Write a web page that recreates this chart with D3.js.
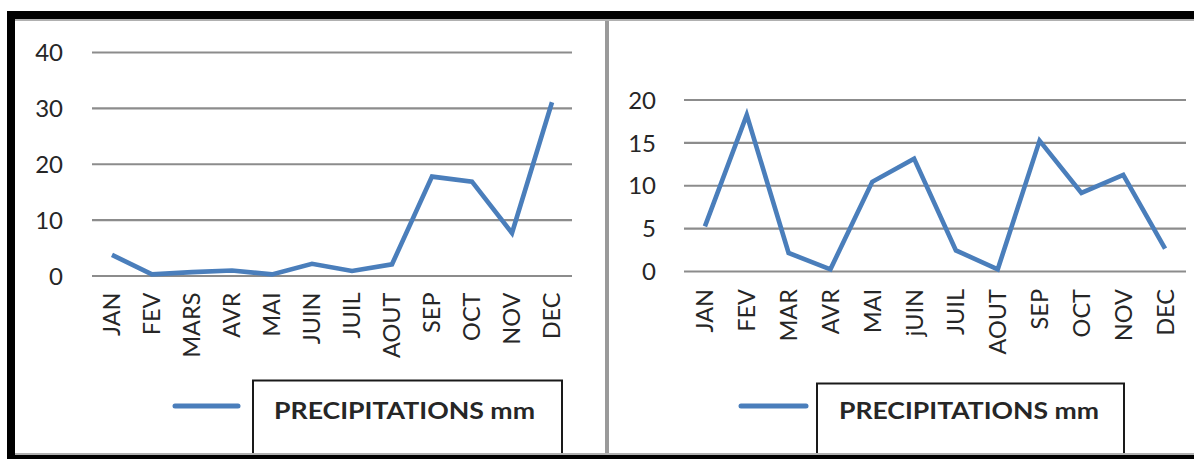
<!DOCTYPE html>
<html><head><meta charset="utf-8">
<script src="https://cdn.jsdelivr.net/npm/d3@7"></script>
<style>
html,body{margin:0;padding:0;background:#fff;}
svg{display:block;}
</style></head>
<body>
<svg id="chart" width="1194" height="459"></svg>
<script>
// ---- data ----
const monthsLeft = ["JAN","FEV","MARS","AVR","MAI","JUIN","JUIL","AOUT","SEP","OCT","NOV","DEC"];
const precipLeft = [3.7, 0.2, 0.6, 0.9, 0.2, 2.1, 0.8, 2.0, 17.7, 16.8, 7.6, 31.0];
const ticksLeft = [0, 10, 20, 30, 40];

const monthsRight = ["JAN","FEV","MAR","AVR","MAI","jUIN","JUIL","AOUT","SEP","OCT","NOV","DEC"];
const precipRight = [5.2, 18.2, 2.1, 0.2, 10.4, 13.1, 2.4, 0.2, 15.2, 9.1, 11.2, 2.6];
const ticksRight = [0, 5, 10, 15, 20];

const legendLabel = "PRECIPITATIONS mm";

// ---- drawing ----
const svg = d3.select("#chart");
const FONT = "Lato, 'Open Sans', sans-serif";
const LINE = "#4a7ebb";
const TXT = "#262626";

svg.append("rect").attr("x",0).attr("y",0).attr("width",1194).attr("height",459).attr("fill","#fff");

function panel(cfg){
  const g = svg.append("g");
  const x = d3.scaleBand().domain(cfg.months).range([cfg.x0, cfg.x1]).padding(0);
  const y = d3.scaleLinear().domain([cfg.ticks[0], cfg.ticks[cfg.ticks.length-1]]).range([cfg.yBottom, cfg.yTop]);

  // y axis with gridlines
  const yAxis = d3.axisLeft(y).tickValues(cfg.ticks).tickSize(-(cfg.x1-cfg.x0)).tickPadding(cfg.yPad).tickFormat(d3.format("d"));
  const ya = g.append("g").attr("transform",`translate(${cfg.x0},0)`).call(yAxis);
  ya.select(".domain").remove();
  ya.selectAll(".tick line").attr("stroke","#8c8c8c").attr("stroke-width",2.2);
  ya.selectAll(".tick text").attr("fill",TXT).style("font-family",FONT).style("font-size","24px").attr("dy","0.36em");

  // x axis labels
  const xAxis = d3.axisBottom(x).tickSize(0).tickPadding(0);
  const xa = g.append("g").attr("transform",`translate(0,${cfg.yBottom})`).call(xAxis);
  xa.select(".domain").remove();
  xa.selectAll(".tick text")
    .attr("transform","rotate(-90)")
    .attr("x",-cfg.xPad).attr("y",0).attr("dy","0.36em")
    .attr("text-anchor","end")
    .attr("fill",TXT).style("font-family",FONT).style("font-size","23.5px");

  // line
  const line = d3.line().x((d,i)=>x(cfg.months[i]) + x.bandwidth()/2).y(d=>y(d));
  g.append("path").datum(cfg.values).attr("d",line)
    .attr("fill","none").attr("stroke",LINE).attr("stroke-width",4.6)
    .attr("stroke-linejoin","miter").attr("stroke-linecap","butt");

  // legend
  const lg = g.append("g");
  lg.append("line").attr("x1",cfg.legLine[0]).attr("x2",cfg.legLine[1])
    .attr("y1",406).attr("y2",406).attr("stroke",LINE).attr("stroke-width",5).attr("stroke-linecap","round");
  lg.append("rect").attr("x",cfg.box[0]).attr("y",cfg.box[1]).attr("width",cfg.box[2]).attr("height",cfg.box[3])
    .attr("fill","#fff").attr("stroke","#1a1a1a").attr("stroke-width",2);
  lg.append("text").attr("x",cfg.legText[0]).attr("y",419)
    .attr("textLength",cfg.legText[1]-cfg.legText[0]).attr("lengthAdjust","spacingAndGlyphs")
    .attr("fill",TXT).style("font-family",FONT).style("font-weight","bold").style("font-size","22px")
    .text(legendLabel);
}

panel({months:monthsLeft, values:precipLeft, ticks:ticksLeft, x0:92, x1:572, yBottom:275.5, yTop:52,
       yPad:29, xPad:17, legLine:[175,238], box:[253,380.5,309,78], legText:[274,535]});
panel({months:monthsRight, values:precipRight, ticks:ticksRight, x0:684, x1:1186, yBottom:271, yTop:99.5,
       yPad:28, xPad:18, legLine:[741,806], box:[817,383.5,307,75], legText:[839,1099]});

// borders
svg.append("rect").attr("x",7).attr("y",11).attr("width",1187).attr("height",8).attr("fill","#000");
svg.append("rect").attr("x",15).attr("y",19).attr("width",1179).attr("height",2).attr("fill","#b0b0b0");
svg.append("rect").attr("x",7).attr("y",11).attr("width",8).attr("height",448).attr("fill","#000");
svg.append("rect").attr("x",15).attr("y",453).attr("width",1179).attr("height",2).attr("fill","#b0b0b0");
svg.append("rect").attr("x",7).attr("y",455).attr("width",1187).attr("height",4).attr("fill","#000");
svg.append("rect").attr("x",605).attr("y",21).attr("width",4).attr("height",432).attr("fill","#9a9a9a");
</script>
</body></html>
